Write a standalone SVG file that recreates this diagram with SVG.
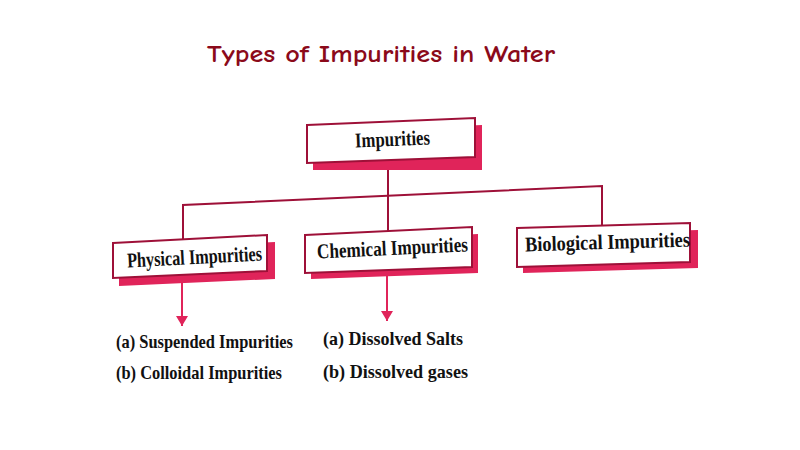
<svg xmlns="http://www.w3.org/2000/svg" width="800" height="450" viewBox="0 0 800 450">
<style>
.title{font-family:"Comic Neue","Noto Sans","DejaVu Sans",sans-serif;font-weight:bold;font-size:25px;fill:#8B0A1A}
.box{fill:#ffffff;stroke:#9E1038;stroke-width:2}
.shadow{fill:#E0245A}
.lbl{font-family:"Liberation Serif","Times New Roman",serif;font-weight:bold;font-size:21px;fill:#111}
.item{font-family:"Liberation Serif","Times New Roman",serif;font-weight:bold;font-size:19px;fill:#111}
.line{fill:none;stroke:#9E1038;stroke-width:2}
.arrow{fill:none;stroke:#E0245A;stroke-width:2}
</style>
<defs>
<marker id="ah" markerWidth="12" markerHeight="12" refX="10" refY="6" orient="auto" markerUnits="userSpaceOnUse">
<path d="M0,0 L10,6 L0,12 Z" fill="#E0245A"/>
</marker>
</defs>
<rect width="800" height="450" fill="#ffffff"/>
<text class="title" x="207" y="62" textLength="348" lengthAdjust="spacingAndGlyphs">Types of Impurities in Water</text>

<g id="connectors">
<path class="line" d="M388,160 L388,240"/>
<path class="line" d="M183,242 L183,205 L602,186 L602,226"/>
<path class="arrow" d="M182,280 L182,326" marker-end="url(#ah)"/>
<path class="arrow" d="M387,272 L387,321" marker-end="url(#ah)"/>
</g>

<g id="impurities">
<polygon class="shadow" points="313,132 482,125 482,170 313,170"/>
<polygon class="box" points="307,125 475,118 475,157 307,163"/>
<text class="lbl" x="355" y="146" textLength="75" lengthAdjust="spacingAndGlyphs" transform="rotate(-2.4 392 140)">Impurities</text>
</g>

<g id="physical">
<polygon class="shadow" points="119,250 275,242 275,279 119,286"/>
<polygon class="box" points="113,243 267,235 267,271 113,278"/>
<text class="lbl" x="127" y="264" textLength="135" lengthAdjust="spacingAndGlyphs" transform="rotate(-3 194 258)">Physical Impurities</text>
</g>

<g id="chemical">
<polygon class="shadow" points="311,242 478,234 478,273 311,279"/>
<polygon class="box" points="305,235 472,227 472,267 305,273"/>
<text class="lbl" x="317" y="255" textLength="151" lengthAdjust="spacingAndGlyphs" transform="rotate(-2.7 392 250)">Chemical Impurities</text>
</g>

<g id="biological">
<polygon class="shadow" points="523,235 698,230 698,268 523,273"/>
<polygon class="box" points="517,228 690,223 690,262 517,267"/>
<text class="lbl" x="525" y="249" textLength="165" lengthAdjust="spacingAndGlyphs" transform="rotate(-1.7 607 244)">Biological Impurities</text>
</g>

<g id="physical-items">
<text class="item" x="116" y="348" textLength="177" lengthAdjust="spacingAndGlyphs">(a) Suspended Impurities</text>
<text class="item" x="116" y="379" textLength="166" lengthAdjust="spacingAndGlyphs">(b) Colloidal Impurities</text>
</g>
<g id="chemical-items">
<text class="item" x="323" y="345" textLength="140" lengthAdjust="spacingAndGlyphs">(a) Dissolved Salts</text>
<text class="item" x="323" y="378" textLength="145" lengthAdjust="spacingAndGlyphs">(b) Dissolved gases</text>
</g>
</svg>
